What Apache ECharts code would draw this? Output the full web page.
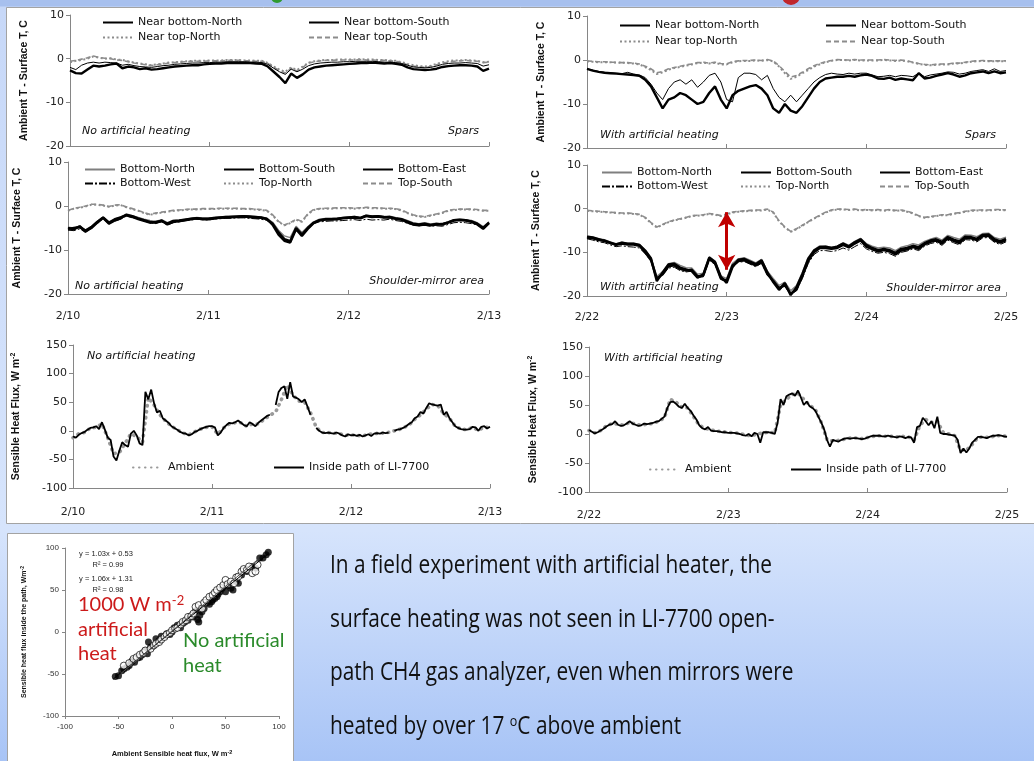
<!DOCTYPE html>
<html><head><meta charset="utf-8">
<script src="https://cdn.jsdelivr.net/npm/echarts@6/dist/echarts.min.js"></script>
<style>
html,body{margin:0;padding:0;width:1034px;height:761px;overflow:hidden;
background:linear-gradient(to bottom,#a7c0ee 0px,#a7c0ee 6px,#c7d8f8 7px,#d6e4fc 530px,#a8c4f6 761px);}
#c{width:1034px;height:761px;}
</style></head><body><div id="c"></div>
<script>
// ---------- tick labels / categories ----------
const datesLeft = ['2/10','2/11','2/12','2/13'];
const datesRight = ['2/22','2/23','2/24','2/25'];

// ---------- Panel A: spars, no heating (hourly, 2/10 00h .. 2/13 00h) ----------
const aBotN = [-2.0,-2.5,-1.5,-1.0,-0.8,-1.0,-0.8,-0.9,-1.0,-1.5,-1.3,-1.6,-1.8,-1.9,-2.0,-1.8,-1.6,-1.5,-1.3,-1.2,-1.1,-1.0,-1.0,-0.9,-0.9,
 -0.8,-0.8,-0.7,-0.7,-0.7,-0.7,-0.8,-0.8,-0.9,-1.3,-2.2,-3.0,-3.6,-2.4,-3.0,-2.4,-1.6,-1.2,-1.0,
 -0.9,-0.8,-0.8,-0.7,-0.7,-0.6,-0.6,-0.6,-0.6,-0.7,-0.8,-0.8,-0.9,-1.1,-1.5,-1.9,-2.0,-2.1,-2.0,-1.7,-1.3,-1.1,-1.0,-1.0,-0.9,-1.0,-1.1,-1.7,-1.4];
const aBotS = [-2.7,-3.3,-3.4,-2.5,-1.6,-1.8,-1.6,-1.3,-1.1,-2.2,-1.8,-2.0,-2.4,-2.2,-2.5,-2.4,-2.2,-2.0,-1.8,-1.7,-1.6,-1.5,-1.5,-1.3,-1.2,
 -1.1,-1.1,-1.0,-1.0,-1.0,-1.0,-1.0,-1.1,-1.2,-1.8,-3.0,-4.2,-5.6,-3.4,-4.4,-3.6,-2.5,-2.0,-1.8,
 -1.6,-1.5,-1.4,-1.3,-1.2,-1.1,-1.0,-1.0,-0.9,-1.0,-1.1,-1.0,-1.2,-1.4,-2.0,-2.4,-2.5,-2.6,-2.5,-2.3,-1.9,-1.7,-1.6,-1.5,-1.5,-1.6,-1.8,-2.8,-2.3];
const aTopN = [-0.8,-0.5,-0.3,0.0,0.5,0.2,0.0,0.1,-0.2,-0.3,-0.6,-0.9,-1.1,-1.3,-1.5,-1.3,-1.1,-0.9,-0.8,-0.7,-0.6,-0.5,-0.5,-0.5,-0.4,
 -0.4,-0.4,-0.3,-0.3,-0.3,-0.4,-0.4,-0.5,-0.5,-1.0,-1.8,-2.5,-3.0,-2.0,-2.6,-1.8,-0.9,-0.6,-0.4,
 -0.3,-0.3,-0.2,-0.2,-0.2,-0.2,-0.1,-0.2,-0.2,-0.3,-0.3,-0.4,-0.5,-0.8,-1.2,-1.5,-1.7,-1.8,-1.6,-1.2,-0.8,-0.6,-0.4,-0.4,-0.3,-0.4,-0.5,-0.8,-0.7];
const aTopS = [-0.6,-0.4,-0.1,0.2,0.6,0.3,0.1,0.0,-0.3,-0.4,-0.7,-1.0,-1.2,-1.4,-1.6,-1.4,-1.2,-1.0,-0.9,-0.8,-0.7,-0.6,-0.6,-0.6,-0.5,
 -0.5,-0.5,-0.4,-0.4,-0.4,-0.5,-0.5,-0.6,-0.6,-1.1,-2.0,-2.7,-3.3,-2.2,-2.8,-2.0,-1.0,-0.7,-0.5,
 -0.4,-0.4,-0.3,-0.3,-0.3,-0.3,-0.2,-0.3,-0.3,-0.4,-0.4,-0.5,-0.6,-0.9,-1.4,-1.7,-1.9,-2.0,-1.8,-1.4,-1.0,-0.8,-0.6,-0.5,-0.4,-0.5,-0.6,-0.9,-0.8];

// ---------- Panel B: spars, with heating (hourly, 2/22 .. 2/25) ----------
const bBotN = [-2.0,-2.3,-2.6,-2.8,-2.9,-3.0,-3.1,-2.8,-3.2,-3.4,-4.0,-5.5,-7.5,-9.0,-6.5,-5.0,-4.5,-5.5,-4.5,-6.2,-5.0,-3.5,-3.0,-5.0,-9.0,
 -9.5,-4.0,-3.0,-3.0,-3.3,-4.5,-3.5,-6.5,-8.5,-9.5,-8.0,-9.5,-8.0,-6.5,-5.0,-4.0,-3.3,-3.0,-3.2,-3.3,-3.0,-3.2,-3.0,-3.0,
 -3.4,-3.8,-3.7,-3.5,-3.8,-3.5,-3.6,-3.8,-3.0,-3.8,-3.4,-3.2,-3.0,-2.7,-2.8,-3.2,-3.0,-2.6,-2.4,-2.2,-2.6,-2.0,-2.6,-2.4];
const bBotS = [-2.0,-2.4,-2.7,-2.9,-3.0,-3.1,-3.2,-3.3,-3.4,-3.6,-4.5,-6.0,-8.5,-11.0,-9.0,-8.5,-7.5,-8.0,-9.0,-10.0,-9.5,-7.5,-6.0,-9.0,-11.0,
 -8.0,-7.0,-6.5,-6.0,-5.7,-6.5,-8.0,-11.0,-12.0,-10.0,-11.5,-12.0,-10.5,-8.5,-6.5,-5.0,-4.2,-4.0,-3.8,-3.8,-3.6,-3.8,-3.5,-3.3,
 -3.6,-4.2,-4.3,-4.0,-4.5,-4.2,-4.4,-4.6,-3.0,-4.2,-4.0,-3.6,-3.3,-3.0,-3.3,-3.8,-3.5,-3.0,-2.8,-2.6,-3.0,-2.6,-3.0,-2.8];
const bTopN = [-0.3,-0.4,-0.5,-0.5,-0.5,-0.6,-0.6,-0.7,-0.8,-1.0,-1.6,-2.3,-3.2,-2.8,-2.2,-1.8,-1.6,-1.3,-1.0,-0.7,-0.6,-0.8,-0.6,-1.0,-1.0,
 -0.5,-0.3,-0.2,-0.2,-0.1,-0.2,0.0,-0.3,-1.5,-3.0,-4.3,-3.8,-3.0,-2.3,-1.5,-1.0,-0.5,-0.2,0.0,0.0,-0.1,0.0,-0.1,-0.1,
 -0.1,-0.1,0.0,-0.1,-0.2,-0.1,-0.3,-0.6,-0.9,-1.1,-1.2,-1.1,-1.0,-1.0,-0.8,-0.8,-0.6,-0.4,-0.3,-0.2,-0.3,-0.3,-0.3,-0.3];
const bTopS = [-0.2,-0.3,-0.4,-0.4,-0.5,-0.5,-0.6,-0.6,-0.7,-0.9,-1.4,-2.0,-2.9,-2.6,-2.0,-1.7,-1.4,-1.1,-0.9,-0.6,-0.5,-0.7,-0.5,-0.8,-0.9,
 -0.4,-0.2,-0.1,-0.1,0.0,-0.1,0.1,-0.2,-1.3,-2.6,-3.9,-3.5,-2.8,-2.0,-1.3,-0.8,-0.4,-0.1,0.1,0.0,0.0,0.1,0.0,0.0,
 0.0,0.0,0.1,0.0,-0.1,0.0,-0.2,-0.5,-0.8,-1.0,-1.1,-1.0,-0.9,-0.9,-0.7,-0.7,-0.5,-0.3,-0.2,-0.1,-0.2,-0.2,-0.2,-0.2];

// ---------- Panel C: shoulder-mirror area, no heating (hourly) ----------
const cBotN = [-4.8,-5.0,-4.5,-5.5,-4.6,-3.5,-2.5,-3.6,-3.0,-2.5,-1.8,-2.2,-2.6,-3.0,-3.3,-3.5,-3.1,-3.8,-3.3,-3.2,-3.0,-2.8,-2.6,-2.7,-2.7,
 -2.6,-2.5,-2.4,-2.3,-2.3,-2.2,-2.3,-2.4,-2.5,-2.8,-3.7,-5.5,-6.8,-7.2,-4.6,-6.0,-4.7,-3.6,-3.0,-2.8,-2.8,-2.8,-2.6,-2.5,
 -2.4,-2.6,-2.1,-2.3,-2.2,-2.4,-2.3,-2.6,-2.8,-3.3,-3.8,-4.0,-3.8,-4.1,-3.9,-4.0,-3.6,-3.1,-3.0,-3.1,-3.3,-3.8,-4.7,-3.6];
const cBotS = [-5.0,-5.3,-4.6,-5.8,-5.0,-3.8,-2.7,-4.0,-3.3,-2.8,-2.0,-2.3,-2.8,-3.2,-3.6,-3.8,-3.3,-4.2,-3.6,-3.5,-3.2,-3.0,-2.8,-3.0,-3.0,
 -2.8,-2.7,-2.6,-2.5,-2.5,-2.4,-2.5,-2.6,-2.7,-3.0,-4.0,-6.0,-7.5,-8.0,-5.0,-6.5,-5.0,-3.8,-3.2,-3.0,-3.0,-3.0,-2.8,-2.7,
 -2.6,-2.8,-2.3,-2.5,-2.4,-2.6,-2.5,-2.8,-3.0,-3.5,-4.0,-4.2,-4.0,-4.3,-4.1,-4.2,-3.8,-3.3,-3.2,-3.3,-3.5,-4.0,-5.0,-3.8];
const cBotE = [-5.2,-5.0,-4.8,-5.6,-4.8,-3.6,-2.6,-3.8,-3.0,-2.6,-2.1,-2.5,-3.0,-3.4,-3.8,-3.6,-3.4,-4.0,-3.4,-3.3,-3.1,-2.9,-2.8,-2.9,-2.9,
 -2.7,-2.6,-2.5,-2.5,-2.4,-2.3,-2.4,-2.5,-2.6,-2.9,-4.3,-6.5,-7.9,-8.3,-5.3,-6.8,-5.2,-3.9,-3.3,-3.1,-3.0,-2.9,-2.7,-2.6,
 -2.5,-2.7,-2.2,-2.4,-2.3,-2.5,-2.6,-2.9,-3.1,-3.7,-4.2,-4.4,-4.2,-4.4,-4.2,-4.1,-3.7,-3.2,-3.1,-3.2,-3.6,-4.2,-5.2,-3.9];
const cBotW = [-5.5,-5.6,-5.2,-6.0,-5.0,-3.9,-2.9,-4.1,-3.4,-3.0,-2.3,-2.6,-3.0,-3.4,-3.8,-4.0,-3.6,-4.3,-3.8,-3.6,-3.4,-3.2,-3.0,-3.1,-3.2,
 -3.0,-2.9,-2.8,-2.8,-2.7,-2.7,-2.8,-2.9,-3.0,-3.3,-4.2,-6.2,-7.6,-8.0,-5.3,-6.6,-5.3,-4.0,-3.6,-3.5,-3.4,-3.4,-3.3,-3.2,
 -3.1,-3.3,-3.0,-3.2,-3.1,-3.2,-3.0,-3.3,-3.5,-3.9,-4.3,-4.5,-4.4,-4.6,-4.5,-4.6,-4.2,-3.8,-3.7,-3.8,-4.0,-4.3,-5.2,-4.2];
const cTopN = [-1.1,-0.6,-0.4,-0.1,0.3,0.3,0.1,-0.2,0.1,0.2,-0.3,-0.7,-1.1,-1.6,-2.0,-1.7,-1.5,-1.3,-1.1,-1.0,-0.9,-0.8,-0.8,-0.7,-0.7,
 -0.7,-0.6,-0.6,-0.6,-0.6,-0.7,-0.7,-0.8,-0.9,-1.1,-2.1,-3.6,-4.4,-3.9,-3.1,-3.6,-1.9,-0.9,-0.7,-0.6,-0.6,-0.5,-0.5,-0.5,
 -0.6,-0.5,-0.4,-0.5,-0.5,-0.6,-0.6,-0.7,-1.0,-1.6,-2.1,-2.4,-2.5,-2.2,-1.9,-1.6,-1.1,-0.9,-0.8,-0.8,-0.8,-0.9,-1.1,-1.1];
const cTopS = [-1.0,-0.5,-0.3,0.0,0.4,0.4,0.2,-0.1,0.2,0.3,-0.2,-0.6,-1.0,-1.5,-1.9,-1.6,-1.4,-1.2,-1.0,-0.9,-0.8,-0.7,-0.7,-0.6,-0.6,
 -0.6,-0.5,-0.5,-0.5,-0.5,-0.6,-0.6,-0.7,-0.8,-1.0,-2.0,-3.5,-4.3,-3.8,-3.0,-3.5,-1.8,-0.8,-0.6,-0.5,-0.5,-0.4,-0.4,-0.4,
 -0.5,-0.4,-0.3,-0.4,-0.4,-0.5,-0.5,-0.6,-0.9,-1.5,-2.0,-2.3,-2.4,-2.1,-1.8,-1.5,-1.0,-0.8,-0.7,-0.7,-0.7,-0.8,-1.0,-1.0];

// ---------- Panel D: shoulder-mirror area, with heating (hourly) ----------
const dBotN = [-6.3,-6.5,-6.9,-7.1,-7.6,-8.0,-7.7,-7.9,-7.9,-8.2,-9.5,-11.2,-15.5,-14.4,-12.6,-12.3,-13.0,-13.5,-13.6,-15.0,-14.8,-11.0,-12.0,-15.4,-16.0,
 -12.5,-11.5,-11.2,-11.8,-12.4,-11.6,-14.3,-16.0,-17.6,-16.8,-18.8,-17.6,-14.6,-11.2,-9.4,-8.5,-8.6,-8.8,-8.6,-7.8,-8.4,-7.5,-6.8,-8.0,
 -8.6,-9.0,-8.8,-9.0,-9.6,-8.8,-8.5,-8.0,-8.3,-7.5,-7.0,-6.6,-7.2,-6.1,-6.6,-7.0,-6.0,-6.1,-6.4,-5.7,-5.6,-6.6,-7.0,-6.5];
const dBotS = [-6.6,-6.8,-7.2,-7.3,-7.8,-8.3,-8.0,-8.2,-8.2,-8.5,-10.0,-11.8,-16.0,-15.0,-13.2,-13.0,-13.8,-14.2,-14.0,-15.5,-15.3,-11.5,-12.5,-16.0,-16.5,
 -13.0,-12.0,-11.8,-12.4,-13.0,-12.2,-15.0,-16.5,-18.2,-17.5,-19.5,-18.5,-15.5,-12.0,-10.0,-9.0,-9.0,-9.2,-9.0,-8.3,-8.9,-8.0,-7.3,-8.7,
 -9.3,-9.8,-9.5,-9.8,-10.5,-9.6,-9.3,-8.8,-9.2,-8.2,-7.6,-7.3,-8.0,-6.8,-7.4,-7.9,-6.7,-6.8,-7.2,-6.3,-6.2,-7.3,-7.8,-7.2];
const dBotE = [-6.4,-6.6,-7.0,-7.4,-7.9,-8.2,-7.8,-8.0,-8.0,-8.3,-9.6,-11.4,-16.6,-14.6,-12.8,-12.6,-13.5,-13.9,-14.3,-15.8,-15.0,-11.2,-12.2,-15.6,-17.0,
 -13.4,-11.7,-11.5,-12.1,-12.7,-11.8,-14.6,-16.8,-18.6,-17.0,-19.8,-18.0,-15.0,-11.5,-9.6,-8.8,-8.7,-9.0,-8.7,-8.0,-8.6,-7.7,-7.0,-8.3,
 -9.0,-9.5,-9.2,-9.5,-10.1,-9.2,-9.0,-8.5,-8.8,-7.9,-7.3,-7.0,-7.6,-6.5,-7.1,-7.5,-6.4,-6.5,-6.9,-6.0,-5.9,-7.0,-7.5,-6.9];
const dBotW = [-6.9,-7.2,-7.6,-7.8,-8.3,-8.7,-8.5,-8.7,-8.8,-9.0,-10.3,-12.0,-16.3,-15.2,-13.6,-13.4,-14.2,-14.5,-14.3,-15.8,-15.6,-11.8,-12.8,-16.2,-16.8,
 -13.3,-12.3,-12.1,-12.7,-13.3,-12.5,-15.2,-16.8,-18.5,-17.8,-19.6,-18.8,-16.0,-12.6,-10.5,-9.6,-9.6,-9.8,-9.6,-9.0,-9.5,-8.7,-8.0,-9.2,
 -9.8,-10.2,-10.0,-10.3,-10.9,-10.0,-9.7,-9.2,-9.6,-8.6,-8.0,-7.7,-8.4,-7.2,-7.8,-8.3,-7.1,-7.2,-7.6,-6.7,-6.6,-7.7,-8.2,-7.6];
const dTopN = [-0.5,-0.6,-0.7,-0.8,-0.9,-1.0,-1.1,-1.1,-1.2,-1.4,-2.1,-3.3,-4.3,-3.7,-3.1,-2.7,-2.4,-2.1,-1.7,-1.6,-1.5,-1.2,-1.4,-1.7,-1.3,
 -0.9,-0.7,-0.6,-0.5,-0.4,-0.4,-0.2,-0.9,-2.9,-4.3,-5.3,-4.7,-3.9,-3.1,-2.3,-1.6,-0.9,-0.4,-0.2,-0.2,-0.3,-0.2,-0.4,-0.3,
 -0.4,-0.3,-0.5,-0.3,-0.5,-0.4,-0.7,-1.1,-1.7,-2.1,-1.9,-1.7,-1.5,-1.5,-1.2,-1.0,-0.7,-0.5,-0.4,-0.4,-0.4,-0.3,-0.3,-0.4];
const dTopS = [-0.4,-0.5,-0.6,-0.7,-0.8,-0.9,-1.0,-1.0,-1.1,-1.3,-2.0,-3.2,-4.2,-3.6,-3.0,-2.6,-2.3,-2.0,-1.6,-1.5,-1.4,-1.1,-1.3,-1.6,-1.2,
 -0.8,-0.6,-0.5,-0.4,-0.3,-0.3,-0.1,-0.8,-2.8,-4.2,-5.2,-4.6,-3.8,-3.0,-2.2,-1.5,-0.8,-0.3,-0.1,-0.1,-0.2,-0.1,-0.3,-0.2,
 -0.3,-0.2,-0.4,-0.2,-0.4,-0.3,-0.6,-1.0,-1.6,-2.0,-1.8,-1.6,-1.4,-1.4,-1.1,-0.9,-0.6,-0.4,-0.3,-0.3,-0.3,-0.2,-0.2,-0.3];
const arrowD = {hour: 24, top: -0.8, bottom: -14};

// ---------- Panel E: sensible heat flux, no heating ----------
// inside path of LI-7700 (half-hourly)
const eInside = [-10,-12,-7,-4,-2,2,5,6,8,3,
 15,2,-12,-16,-45,-52,-35,-20,-25,-28,
 -5,0,-8,-22,-25,68,55,72,48,32,
 35,22,18,14,8,5,2,-2,-4,-5,
 -8,-6,-2,0,3,5,7,8,8,6,
 -8,-3,5,10,14,13,15,18,14,10,
 8,15,12,8,14,18,22,26,28,null,
 45,68,75,78,56,85,60,58,55,50,
 55,42,28,null,5,0,-3,-4,-3,-4,
 -5,-3,-5,-8,-10,-6,-8,-7,-9,-7,
 -10,-8,-6,-9,-5,-4,-5,-3,-4,-3,
 null,0,2,3,5,8,12,15,22,25,
 33,30,40,48,46,45,44,46,28,33,
 22,15,8,5,3,2,2,3,7,6,
 0,7,8,4,7];
// ambient (hourly)
const eAmbient = [-12,-5,-3,5,6,12,-12,-40,-38,-22,-5,-10,-20,58,45,28,17,8,2,-4,-7,-2,3,6,7,
 -6,5,12,14,14,8,12,12,20,27,33,55,80,62,52,50,32,6,-3,-3,-4,-5,-8,
 -7,-8,-9,-6,-5,-4,-4,-1,1,5,10,20,28,38,46,44,30,22,8,3,2,6,1,6,6];

// ---------- Panel F: sensible heat flux, with heating ----------
const fInside = [7,4,1,3,6,9,13,16,17,22,
 16,14,15,18,22,18,16,14,15,18,
 17,18,19,21,22,26,30,45,55,56,
 52,47,45,52,45,40,32,25,15,10,
 8,12,6,5,5,4,3,3,2,2,
 2,1,0,-2,-3,0,-4,2,0,-15,
 3,3,3,2,0,20,60,50,65,68,
 70,66,75,63,50,56,48,45,40,30,
 20,8,-10,-22,-10,-12,-13,-10,-8,-7,
 -8,-7,-7,-8,-9,-8,-6,-4,-3,-3,
 -3,-4,-4,-3,-4,-5,-6,-4,-5,-7,
 -5,-6,-15,12,14,28,22,15,22,10,
 30,2,0,0,-1,-2,-3,-10,-33,-25,
 -32,-25,-15,-10,-5,-5,-6,-7,-5,-3,
 -3,-2,-3,-4,-5];
const fAmbient = [6,2,6,14,18,17,15,20,17,15,17,18,22,28,60,55,46,45,30,15,10,7,5,4,3,
 2,1,-2,-3,0,2,3,2,50,60,68,70,60,50,42,20,-10,-12,-11,-9,-7,-7,-8,
 -6,-4,-3,-4,-4,-5,-4,-5,-10,15,25,20,22,3,0,-3,-28,-28,-18,-6,-5,-6,-3,-3,-4];

// ---------- Scatter: ambient vs inside-path sensible heat flux ----------
const heatX = [-53,-50,-47,-45,-42,-40,-38,-37,-35,-32,-30,-28,-25,-23,-22,-20,-18,-15,-12,-10,-5,-2,0,2,5,8,10,12,15,20,22,24,25,26,28,30,33,35,37,38,40,42,43,45,47,50,52,55,57,60,62,65,70,75,78,82,85,88,90];
const heatY = [-53,-52,-46,-44,-42,-40,-36,-34,-36,-31,-30,-27,-22,-26,-12,-18,-17,-8,-10,-5,-2,-3,0,5,8,5,10,12,14,18,25,15,12,20,24,28,35,33,36,38,40,42,45,48,52,48,55,52,50,60,58,68,72,78,76,88,88,92,95];
const noHeatX = [-45,-40,-36,-33,-30,-27,-25,-20,-17,-15,-12,-10,-7,-5,-2,0,3,5,8,10,13,15,18,20,22,25,28,30,32,35,38,40,42,45,48,50,52,55,58,60,62,65,67,70,72,75,78,80];
const noHeatY = [-40,-37,-32,-30,-27,-25,-22,-20,-16,-14,-12,-9,-6,-3,-1,2,4,5,9,12,14,18,19,22,30,32,28,35,38,42,44,47,50,53,56,62,57,60,58,65,66,72,75,74,78,70,72,80];
const fitHeat = [[-55,-56.1],[90,93.2]];
const fitNoHeat = [[-48,-49.6],[80,86.1]];
const fitLabels = ['y = 1.03x + 0.53','R\u00b2 = 0.99','y = 1.06x + 1.31','R\u00b2 = 0.98'];

const noteLines = ['In a field experiment with artificial heater, the',
 'surface heating was not seen in LI-7700 open-',
 'path CH4 gas analyzer, even when mirrors were',
 'heated by over 17 {sup|o}C above ambient'];

// ================= build chart =================
const FONT = 'DejaVu Sans';
const NAMEFONT = 'Liberation Sans';
const hours = Array.from({length:73},(_,i)=>i);
const halfHours = Array.from({length:145},(_,i)=>i/2);
const pts = (vals, times) => vals.map((v,i)=>[times[i], v]);

const S = {
  thin:{color:'#000',width:1},
  thick:{color:'#000',width:2.4},
  dot:{color:'#8c8c8c',width:2,type:[2,2.5]},
  dash:{color:'#8c8c8c',width:1.6,type:[5,3]},
  grayThin:{color:'#7f7f7f',width:1.4},
  dashDot:{color:'#000',width:1,type:[8,2,2,2]},
  amb:{color:'#9a9a9a',width:3.6,type:[0.5,5.5],cap:'round'},
  inside:{color:'#000',width:1.8}
};
function ln(name, gi, vals, times, style, z){
  return {type:'line', name, xAxisIndex:gi, yAxisIndex:gi, data:pts(vals,times),
    symbol:'none', showSymbol:false, silent:true, animation:false, connectNulls:false,
    lineStyle:style, itemStyle:{color:style.color}, z:z||2};
}

const grids = [
  {left:70, top:15, width:419, height:131},
  {left:587, top:16, width:419, height:132},
  {left:68, top:162, width:421, height:132},
  {left:587, top:165, width:419, height:131},
  {left:73, top:345, width:417, height:143},
  {left:589, top:347, width:418, height:145},
  {left:65, top:548, width:214, height:168}
];
const axisCol = '#868686';
function xAx(gi, dates, show, margin){
  return {type:'value', gridIndex:gi, min:0, max:72, interval:24,
    axisLine:{onZero:false, lineStyle:{color:axisCol}},
    axisTick:{show:true, inside:true, length:4, lineStyle:{color:axisCol}},
    axisLabel:{show:show, margin:margin, fontFamily:FONT, fontSize:11, color:'#222',
      formatter:v=>dates[Math.round(v/24)]},
    splitLine:{show:false}};
}
function yAx(gi, min, max, interval, name, gap){
  return {type:'value', gridIndex:gi, min, max, interval,
    name, nameLocation:'middle', nameGap:gap, nameRotate:90,
    nameTextStyle:{fontFamily:NAMEFONT, fontSize:10.5, fontWeight:'bold', color:'#111',
      rich:{sup:{fontSize:7, fontWeight:'bold', fontFamily:NAMEFONT, color:'#111', verticalAlign:'bottom', padding:[0,0,6,0]}}},
    axisLine:{show:true, onZero:false, lineStyle:{color:axisCol}},
    axisTick:{show:true, length:4, lineStyle:{color:axisCol}},
    axisLabel:{margin:6, fontFamily:FONT, fontSize:11, color:'#222'},
    splitLine:{show:false}};
}
const tName = 'Ambient T - Surface T, C';
const fName = 'Sensible Heat Flux, W m{sup|-2}';

const xAxes = [
  xAx(0, datesLeft, false, 8), xAx(1, datesRight, false, 8),
  xAx(2, datesLeft, true, 17), xAx(3, datesRight, true, 16),
  xAx(4, datesLeft, true, 19), xAx(5, datesRight, true, 18),
  {type:'value', gridIndex:6, min:-100, max:100, interval:50,
   name:'Ambient Sensible heat flux, W m{sup|-2}', nameLocation:'middle', nameGap:33,
   nameTextStyle:{fontFamily:NAMEFONT, fontSize:7.5, fontWeight:'bold', color:'#111',
     rich:{sup:{fontSize:5.5, fontWeight:'bold', verticalAlign:'bottom', padding:[0,0,4,0]}}},
   axisLine:{onZero:false, lineStyle:{color:axisCol}},
   axisTick:{show:true, length:3, lineStyle:{color:axisCol}},
   axisLabel:{margin:7, fontFamily:NAMEFONT, fontSize:8, color:'#333'},
   splitLine:{show:false}}
];
const yAxes = [
  yAx(0,-20,10,10,tName,40), yAx(1,-20,10,10,tName,40),
  yAx(2,-20,10,10,tName,45), yAx(3,-20,10,10,tName,45),
  yAx(4,-100,150,50,fName,50), yAx(5,-100,150,50,fName,49),
  {type:'value', gridIndex:6, min:-100, max:100, interval:50,
   name:'Sensible heat flux inside the path, Wm{sup|-2}', nameLocation:'middle', nameGap:36, nameRotate:90,
   nameTextStyle:{fontFamily:NAMEFONT, fontSize:7, fontWeight:'bold', color:'#111',
     rich:{sup:{fontSize:5, fontWeight:'bold', verticalAlign:'bottom', padding:[0,0,4,0]}}},
   axisLine:{show:true, onZero:false, lineStyle:{color:axisCol}},
   axisTick:{show:true, length:3, lineStyle:{color:axisCol}},
   axisLabel:{margin:6, fontFamily:NAMEFONT, fontSize:8, color:'#333'},
   splitLine:{show:false}}
];

const series = [
  // A
  ln('Near top-North',0,aTopN,hours,S.dot), ln('Near top-South',0,aTopS,hours,S.dash),
  ln('Near bottom-North',0,aBotN,hours,S.thin), ln('Near bottom-South',0,aBotS,hours,S.thick),
  // B
  ln('Near top-North',1,bTopN,hours,S.dot), ln('Near top-South',1,bTopS,hours,S.dash),
  ln('Near bottom-North',1,bBotN,hours,S.thin), ln('Near bottom-South',1,bBotS,hours,S.thick),
  // C
  ln('Top-North',2,cTopN,hours,S.dot), ln('Top-South',2,cTopS,hours,S.dash),
  ln('Bottom-West',2,cBotW,hours,S.dashDot), ln('Bottom-North',2,cBotN,hours,S.grayThin),
  ln('Bottom-East',2,cBotE,hours,S.thick), ln('Bottom-South',2,cBotS,hours,S.thick),
  // D
  ln('Top-North',3,dTopN,hours,S.dot), ln('Top-South',3,dTopS,hours,S.dash),
  ln('Bottom-West',3,dBotW,hours,S.dashDot), ln('Bottom-North',3,dBotN,hours,S.grayThin),
  ln('Bottom-East',3,dBotE,hours,S.thick),
  Object.assign(ln('Bottom-South',3,dBotS,hours,S.thick), {
    markLine:{silent:true, symbol:['arrow','arrow'], symbolSize:[13,15], animation:false,
      lineStyle:{color:'#c00000', width:3, type:'solid'}, label:{show:false},
      data:[[{coord:[arrowD.hour, arrowD.top]},{coord:[arrowD.hour, arrowD.bottom]}]]}}),
  // E
  ln('Ambient',4,eAmbient,hours,S.amb), ln('Inside path of LI-7700',4,eInside,halfHours,S.inside,3),
  // F
  ln('Ambient',5,fAmbient,hours,S.amb), ln('Inside path of LI-7700',5,fInside,halfHours,S.inside,3),
  // scatter
  {type:'scatter', name:'heat', xAxisIndex:6, yAxisIndex:6, data:pts(heatY,heatX),
   symbol:'circle', symbolSize:7, itemStyle:{color:'#000'}, silent:true, animation:false},
  {type:'scatter', name:'noheat', xAxisIndex:6, yAxisIndex:6, data:pts(noHeatY,noHeatX),
   symbol:'circle', symbolSize:7, itemStyle:{color:'#fff', borderColor:'#000', borderWidth:0.9}, silent:true, animation:false},
  {type:'line', name:'fit1', xAxisIndex:6, yAxisIndex:6, data:fitHeat, symbol:'none', silent:true, animation:false,
   lineStyle:{color:'#000', width:1}, z:4},
  {type:'line', name:'fit2', xAxisIndex:6, yAxisIndex:6, data:fitNoHeat, symbol:'none', silent:true, animation:false,
   lineStyle:{color:'#555', width:1}, z:4}
];

function leg(name, left, cy){
  return {data:[name], left, top:cy-6, itemWidth:30, itemHeight:12, itemGap:0, padding:0,
    selectedMode:false, itemStyle:{color:'rgba(0,0,0,0)', borderWidth:0, opacity:0},
    textStyle:{fontFamily:FONT, fontSize:11, color:'#111'}};
}
const legends = [
  leg('Near bottom-North',102,23), leg('Near bottom-South',308,23), leg('Near top-North',102,38), leg('Near top-South',308,38),
  leg('Near bottom-North',619,26), leg('Near bottom-South',825,26), leg('Near top-North',619,42), leg('Near top-South',825,42),
  leg('Bottom-North',84,170), leg('Bottom-South',223,170), leg('Bottom-East',362,170),
  leg('Bottom-West',84,184), leg('Top-North',223,184), leg('Top-South',362,184),
  leg('Bottom-North',601,173), leg('Bottom-South',740,173), leg('Bottom-East',879,173),
  leg('Bottom-West',601,187), leg('Top-North',740,187), leg('Top-South',879,187),
  leg('Ambient',132,468), leg('Inside path of LI-7700',273,468),
  leg('Ambient',649,470), leg('Inside path of LI-7700',790,470)
];

// text measurement for the paragraph
const bodyFontSize = 25;
const bodyFont = bodyFontSize + 'px "Open Sans", sans-serif';
const mctx = document.createElement('canvas').getContext('2d');
mctx.font = bodyFont;
const sxBody = 442 / mctx.measureText(noteLines[0]).width;

function itxt(text, x, y, align){
  return {type:'text', x, y, z:10, silent:true,
    style:{text, fill:'#111', font:'italic 11px "DejaVu Sans"', textAlign:align||'left', textVerticalAlign:'middle'}};
}
function ctxt(text, x, y, font, fill, align){
  return {type:'text', x, y, z:10, silent:true,
    style:{text, fill, font, textAlign:align||'left', textVerticalAlign:'middle',
      rich:{sup:{font:'13px Lato', fill, verticalAlign:'bottom', padding:[0,0,9,0]}}}};
}
const bodyY = [566, 620, 673, 727];
const graphic = [
  {type:'rect', z:-100, silent:true, shape:{x:6.5,y:7.5,width:1040,height:516}, style:{fill:'#fff', stroke:'#a3a3a3', lineWidth:1}},
  {type:'rect', z:-100, silent:true, shape:{x:7.5,y:533.5,width:286,height:240}, style:{fill:'#fff', stroke:'#a3a3a3', lineWidth:1}},
  {type:'circle', z:-90, silent:true, shape:{cx:277, cy:-3, r:6}, style:{fill:'#2f9a2f'}},
  {type:'circle', z:-90, silent:true, shape:{cx:791, cy:-4, r:9}, style:{fill:'#c0262c'}},
  itxt('No artificial heating',82,131), itxt('Spars',479,131,'right'),
  itxt('With artificial heating',600,135), itxt('Spars',996,135,'right'),
  itxt('No artificial heating',75,286), itxt('Shoulder-mirror area',484,281,'right'),
  itxt('With artificial heating',600,287), itxt('Shoulder-mirror area',1001,288,'right'),
  itxt('No artificial heating',87,356),
  itxt('With artificial heating',604,358),
  ctxt(fitLabels[0],106,554,'7.5px "Liberation Sans"','#222','center'),
  ctxt(fitLabels[1],108,565,'7.5px "Liberation Sans"','#222','center'),
  ctxt(fitLabels[2],106,579,'7.5px "Liberation Sans"','#222','center'),
  ctxt(fitLabels[3],108,590,'7.5px "Liberation Sans"','#222','center'),
  ctxt('1000 W m{sup|-2}',78,605,'20px Lato','#cc1a1a'),
  ctxt('artificial',78,630,'20px Lato','#cc1a1a'),
  ctxt('heat',78,654,'20px Lato','#cc1a1a'),
  ctxt('No artificial',183,641,'20px Lato','#2a8a2a'),
  ctxt('heat',183,666,'20px Lato','#2a8a2a')
].concat(noteLines.map((t,i)=>({type:'text', x:330, y:bodyY[i], scaleX:sxBody, z:10, silent:true,
  style:{text:t, fill:'#111', font:bodyFont, textAlign:'left', textVerticalAlign:'middle',
    rich:{sup:{font:'15px "Open Sans"', fill:'#111', verticalAlign:'bottom', padding:[0,0,10,0]}}}})));

const chart = echarts.init(document.getElementById('c'), null, {renderer:'canvas'});
chart.setOption({
  animation:false,
  textStyle:{fontFamily:FONT},
  grid:grids.map(g=>Object.assign({containLabel:false},g)),
  xAxis:xAxes, yAxis:yAxes, series, legend:legends, graphic
});
</script></body></html>
